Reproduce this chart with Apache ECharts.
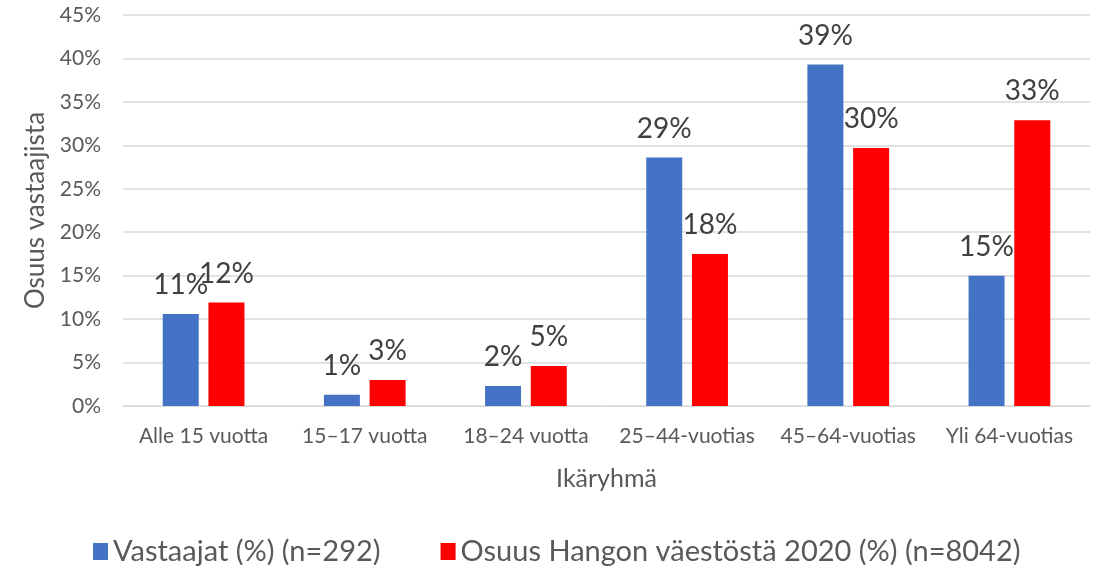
<!DOCTYPE html>
<html>
<head>
<meta charset="utf-8">
<script src="https://cdn.jsdelivr.net/npm/echarts@6/dist/echarts.min.js"></script>
<style>
  html, body { margin: 0; padding: 0; background: #fff; }
  #main { width: 1094px; height: 573px; }
</style>
</head>
<body>
<div id="main"></div>
<script>
var categories = ['Alle 15 vuotta', '15–17 vuotta', '18–24 vuotta', '25–44-vuotias', '45–64-vuotias', 'Yli 64-vuotias'];
var respondents = [10.6, 1.3, 2.3, 28.6, 39.3, 15.0];
var population = [11.9, 3.0, 4.6, 17.5, 29.7, 32.9];
var seriesNames = ['Vastaajat (%) (n=292)', 'Osuus Hangon väestöstä 2020 (%) (n=8042)'];

var fontName = 'Lato, "Open Sans", sans-serif';

var labelStyle = {
    show: true,
    position: 'top',
    distance: 15,
    fontFamily: fontName,
    fontSize: 28,
    color: '#404040',
    formatter: function (p) { return Math.round(p.value) + '%'; }
};

var option_tmp = {
    backgroundColor: '#ffffff',
    animation: false,
    grid: {
        left: 123,
        right: 4,
        top: 15,
        bottom: 167,
        containLabel: false
    },
    legend: {
        data: seriesNames,
        left: 88,
        bottom: 2,
        itemWidth: 15,
        itemHeight: 17,
        itemGap: 60,
        icon: 'rect',
        textStyle: {
            fontFamily: fontName,
            fontSize: 29,
            color: '#595959'
        }
    },
    xAxis: {
        type: 'category',
        data: categories,
        name: 'Ikäryhmä',
        nameLocation: 'middle',
        nameGap: 60,
        nameTextStyle: { fontFamily: fontName, fontSize: 25, color: '#595959' },
        axisLine: { lineStyle: { color: '#d9d9d9', width: 1 } },
        axisTick: { show: false },
        axisLabel: { fontFamily: fontName, fontSize: 21, color: '#595959', margin: 20, interval: 0 }
    },
    yAxis: {
        type: 'value',
        min: 0,
        max: 45,
        interval: 5,
        name: 'Osuus vastaajista',
        nameLocation: 'middle',
        nameGap: 72,
        nameTextStyle: { fontFamily: fontName, fontSize: 26, color: '#595959' },
        axisLabel: {
            fontFamily: fontName,
            fontSize: 21,
            color: '#595959',
            margin: 22,
            formatter: '{value}%'
        },
        splitLine: { lineStyle: { color: '#d9d9d9', width: 1.5 } },
        axisLine: { show: false },
        axisTick: { show: false }
    },
    series: [
        {
            name: seriesNames[0],
            type: 'bar',
            barWidth: 36,
            barGap: '27%',
            itemStyle: { color: '#4472c4' },
            label: labelStyle,
            data: respondents
        },
        {
            name: seriesNames[1],
            type: 'bar',
            barWidth: 36,
            itemStyle: { color: '#ff0000' },
            label: labelStyle,
            data: population
        }
    ]
};

var myChart = echarts.init(document.getElementById('main'));
myChart.setOption(option_tmp);
</script>
</body>
</html>
